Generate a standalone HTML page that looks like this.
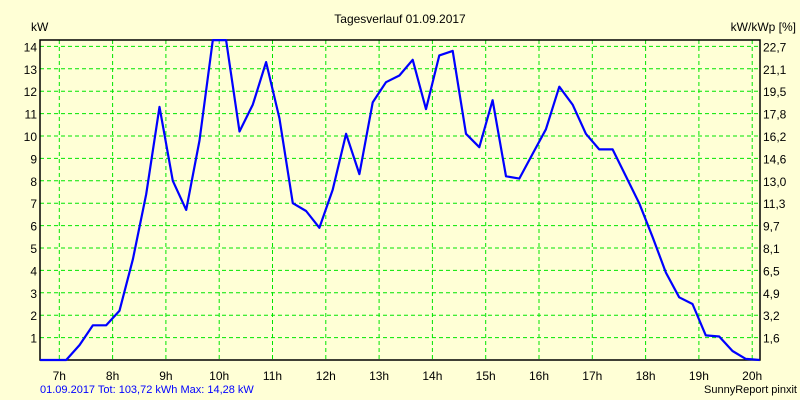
<!DOCTYPE html>
<html><head><meta charset="utf-8">
<style>
html,body{margin:0;padding:0;background:#FFFFD6;}
svg{display:block;font-family:"Liberation Sans",Arial,sans-serif;}
</style></head>
<body>
<svg id="chart" width="800" height="400" viewBox="0 0 800 400" xmlns="http://www.w3.org/2000/svg">
<rect x="0" y="0" width="800" height="400" fill="#FFFFD6"/>
<text x="400" y="23" text-anchor="middle" font-size="12" fill="#000">Tagesverlauf 01.09.2017</text>
<text x="31" y="31" font-size="12" fill="#000">kW</text>
<text x="796" y="31" text-anchor="end" font-size="12" fill="#000">kW/kWp [%]</text>
<g id="grid"></g>
<g id="axes"></g>
<g id="series"></g>
<text x="40" y="393" font-size="11" fill="#0000FF">01.09.2017 Tot: 103,72 kWh Max: 14,28 kW</text>
<text x="797" y="393" text-anchor="end" font-size="11" fill="#000">SunnyReport pinxit</text>
</svg>
<script>
const hourTicks = [7,8,9,10,11,12,13,14,15,16,17,18,19,20];
const kwTicks = [1,2,3,4,5,6,7,8,9,10,11,12,13,14];
const pctLabels = ["1,6","3,2","4,9","6,5","8,1","9,7","11,3","13,0","14,6","16,2","17,8","19,5","21,1","22,7"];
const times = [6.64,7.13,7.38,7.63,7.88,8.13,8.38,8.63,8.88,9.13,9.38,9.63,9.88,10.13,10.38,10.63,10.88,11.13,11.38,11.63,11.88,12.13,12.38,12.63,12.88,13.13,13.38,13.63,13.88,14.13,14.38,14.63,14.88,15.13,15.38,15.63,15.88,16.13,16.38,16.63,16.88,17.13,17.38,17.63,17.88,18.13,18.38,18.63,18.88,19.13,19.38,19.63,19.88,20.14];
const power = [0,0,0.67,1.55,1.55,2.2,4.5,7.4,11.3,8.0,6.7,9.8,14.28,14.28,10.2,11.4,13.3,10.8,7.0,6.65,5.9,7.6,10.1,8.3,11.5,12.4,12.7,13.4,11.2,13.6,13.8,10.1,9.5,11.6,8.2,8.1,9.2,10.3,12.2,11.4,10.1,9.4,9.4,8.2,7.0,5.5,3.9,2.8,2.5,1.1,1.05,0.4,0.05,0];

const L=40,R=760,T=40,B=360;
const xs = h => 59.3 + (h-7)*53.3;
const ys = v => B - v*22.4;
const NS="http://www.w3.org/2000/svg";
function mk(tag, attrs, parent){const e=document.createElementNS(NS,tag);for(const k in attrs)e.setAttribute(k,attrs[k]);parent.appendChild(e);return e;}
const grid=document.getElementById('grid'), axes=document.getElementById('axes'), series=document.getElementById('series');

hourTicks.forEach(h=>{
  const x=xs(h);
  const g=mk('line',{x1:x,y1:T,x2:x,y2:B,stroke:'#00E600','stroke-width':1,'stroke-dasharray':'4,3'},grid);
  
  
  const t=mk('text',{x:x,y:B+20,'text-anchor':'middle','font-size':12,fill:'#000'},axes);
  t.textContent=h+'h';
  
  
});
kwTicks.forEach((v,i)=>{
  const y=ys(v);
  const g=mk('line',{x1:L,y1:y,x2:R,y2:y,stroke:'#00E600','stroke-width':1,'stroke-dasharray':'4,3'},grid);
  
  
  const t=mk('text',{x:L-3,y:y+5,'text-anchor':'end','font-size':12,fill:'#000'},axes);
  t.textContent=v;
  
  
  const t2=mk('text',{x:R+3,y:y+5,'font-size':12,fill:'#000'},axes);
  t2.textContent=pctLabels[i];
  
  
});
const fr=mk('rect',{x:L,y:T,width:R-L,height:B-T,fill:'none',stroke:'#000','stroke-width':1.5},axes);



const pts=times.map((h,i)=>{const x=Math.max(L,Math.min(R,xs(h)));return x.toFixed(1)+','+ys(power[i]).toFixed(1);}).join(' ');
const line=mk('polyline',{points:pts,fill:'none',stroke:'#0000FF','stroke-width':2.2,'stroke-linejoin':'round'},series);


</script>
</body></html>
